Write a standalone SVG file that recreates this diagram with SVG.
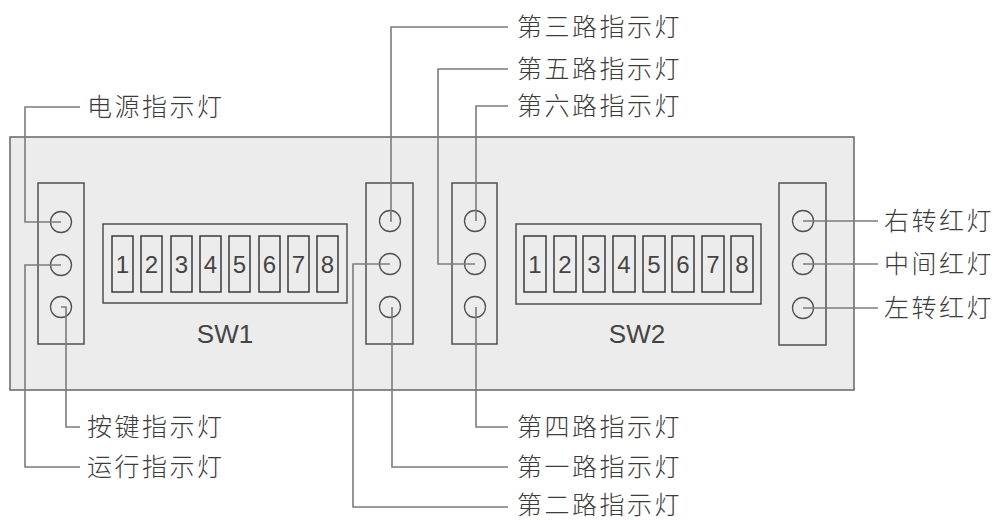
<svg xmlns="http://www.w3.org/2000/svg" width="1000" height="520" viewBox="0 0 1000 520">
<style>
.panel{fill:#ececec;stroke:#6e6e6e;stroke-width:1.6}
.box{fill:none;stroke:#505050;stroke-width:1.5}
.led{fill:none;stroke:#505050;stroke-width:1.3}
.sw{fill:none;stroke:#3a3a3a;stroke-width:1.5}
.lead{fill:none;stroke:#7c7c7c;stroke-width:1.6}
.cn{font-family:"Noto Sans CJK SC","Noto Sans",sans-serif;font-size:25px;font-weight:300;fill:#3c3c3c;letter-spacing:2.5px}
.dg{font-family:"Liberation Sans",Arial,sans-serif;font-size:24px;fill:#444;text-anchor:middle}
.lb{font-family:"Liberation Sans",Arial,sans-serif;font-size:26px;fill:#444;text-anchor:middle}
</style>
<rect class="panel" x="10" y="137" width="844" height="253"/>

<g id="strip-left">
<rect class="box" x="38" y="183" width="46" height="161"/>
<circle class="led" cx="61" cy="222" r="10.5"/>
<circle class="led" cx="61" cy="265" r="10.5"/>
<circle class="led" cx="61" cy="307" r="10.5"/>
</g>

<g id="sw1">
<rect class="box" x="103" y="224" width="244" height="79"/>
<rect class="sw" x="112" y="236" width="21" height="56"/>
<rect class="sw" x="141" y="236" width="21" height="56"/>
<rect class="sw" x="171" y="236" width="21" height="56"/>
<rect class="sw" x="200" y="236" width="21" height="56"/>
<rect class="sw" x="229" y="236" width="21" height="56"/>
<rect class="sw" x="259" y="236" width="21" height="56"/>
<rect class="sw" x="288" y="236" width="21" height="56"/>
<rect class="sw" x="317" y="236" width="21" height="56"/>
<text class="dg" x="122.5" y="273">1</text>
<text class="dg" x="151.5" y="273">2</text>
<text class="dg" x="181.5" y="273">3</text>
<text class="dg" x="210.5" y="273">4</text>
<text class="dg" x="239.5" y="273">5</text>
<text class="dg" x="269.5" y="273">6</text>
<text class="dg" x="298.5" y="273">7</text>
<text class="dg" x="327.5" y="273">8</text>
<text class="lb" x="225" y="343">SW1</text>
</g>

<g id="strip-mid1">
<rect class="box" x="366" y="183" width="47" height="161"/>
<circle class="led" cx="390" cy="221" r="10.5"/>
<circle class="led" cx="390" cy="264" r="10.5"/>
<circle class="led" cx="390" cy="307" r="10.5"/>
</g>

<g id="strip-mid2">
<rect class="box" x="452" y="183" width="45" height="161"/>
<circle class="led" cx="475" cy="221" r="10.5"/>
<circle class="led" cx="475" cy="264" r="10.5"/>
<circle class="led" cx="475" cy="307" r="10.5"/>
</g>

<g id="sw2">
<rect class="box" x="516" y="224" width="245" height="80"/>
<rect class="sw" x="524" y="236" width="22" height="56"/>
<rect class="sw" x="554" y="236" width="22" height="56"/>
<rect class="sw" x="583" y="236" width="22" height="56"/>
<rect class="sw" x="613" y="236" width="22" height="56"/>
<rect class="sw" x="643" y="236" width="22" height="56"/>
<rect class="sw" x="672" y="236" width="22" height="56"/>
<rect class="sw" x="702" y="236" width="22" height="56"/>
<rect class="sw" x="731" y="236" width="22" height="56"/>
<text class="dg" x="535" y="273">1</text>
<text class="dg" x="565" y="273">2</text>
<text class="dg" x="594" y="273">3</text>
<text class="dg" x="624" y="273">4</text>
<text class="dg" x="654" y="273">5</text>
<text class="dg" x="683" y="273">6</text>
<text class="dg" x="713" y="273">7</text>
<text class="dg" x="742" y="273">8</text>
<text class="lb" x="637" y="343">SW2</text>
</g>

<g id="strip-right">
<rect class="box" x="779" y="183" width="47" height="162"/>
<circle class="led" cx="803" cy="221" r="10.5"/>
<circle class="led" cx="803" cy="264" r="10.5"/>
<circle class="led" cx="803" cy="308" r="10.5"/>
</g>

<g id="connectors">
<polyline class="lead" points="61,222 25,222 25,107 80,107"/>
<polyline class="lead" points="61,265 25,265 25,467 80,467"/>
<polyline class="lead" points="61,307 66,307 66,427 80,427"/>
<polyline class="lead" points="390,221 391,221 391,27 508,27"/>
<polyline class="lead" points="475,264 438,264 438,69 508,69"/>
<polyline class="lead" points="476,221 476,106 508,106"/>
<polyline class="lead" points="476,307 476,427 508,427"/>
<polyline class="lead" points="392,307 392,467 508,467"/>
<polyline class="lead" points="390,264 353,264 353,507 508,507"/>
<line class="lead" x1="803" y1="221" x2="878" y2="221"/>
<line class="lead" x1="803" y1="264" x2="878" y2="264"/>
<line class="lead" x1="803" y1="308" x2="878" y2="308"/>
</g>

<g id="labels">
<text class="cn" x="87" y="116">电源指示灯</text>
<text class="cn" x="87" y="436">按键指示灯</text>
<text class="cn" x="87" y="476">运行指示灯</text>
<text class="cn" x="517" y="36">第三路指示灯</text>
<text class="cn" x="517" y="78">第五路指示灯</text>
<text class="cn" x="517" y="115">第六路指示灯</text>
<text class="cn" x="517" y="436">第四路指示灯</text>
<text class="cn" x="517" y="476">第一路指示灯</text>
<text class="cn" x="517" y="514">第二路指示灯</text>
<text class="cn" x="884" y="230">右转红灯</text>
<text class="cn" x="884" y="273">中间红灯</text>
<text class="cn" x="884" y="317">左转红灯</text>
</g>
</svg>
